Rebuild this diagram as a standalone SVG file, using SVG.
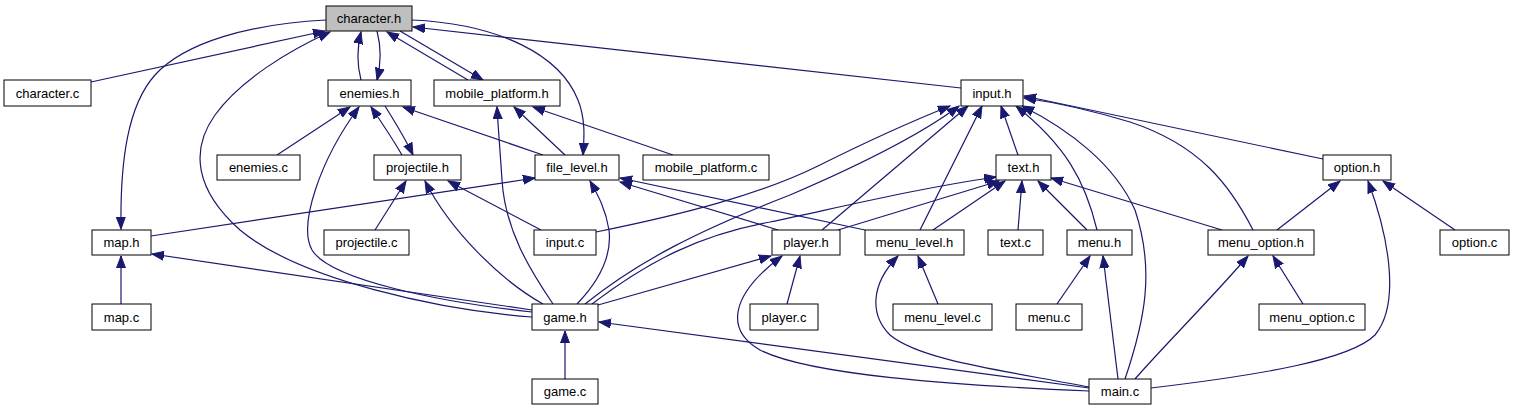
<svg xmlns="http://www.w3.org/2000/svg" width="1513" height="411" viewBox="0 0 1513 411">
<style>
.n rect{fill:#fff;stroke:#000;stroke-width:1}
.n text{font-family:"Liberation Sans",Arial,sans-serif;font-size:13px;fill:#000;text-anchor:middle}
#edges path{fill:none;stroke:#191970;stroke-width:1.2;marker-end:url(#ah)}
</style>
<defs>
<marker id="ah" markerUnits="userSpaceOnUse" markerWidth="14" markerHeight="11" refX="12" refY="5" orient="auto">
<path d="M0,0.5 L12,5 L0,9.5 z" fill="#191970" stroke="#191970" stroke-width="1"/>
</marker>
</defs>
<rect width="1513" height="411" fill="#fff"/>
<g id="edges">
<path d="M91,82 L325,31"/>
<path d="M326,20 C250,24 185,42 155,75 C128,105 120,160 121,229"/>
<path d="M532,317 C440,310 300,280 240,230 C195,190 190,150 215,115 C240,80 290,50 330,32"/>
<path d="M361,80 C357,65 357,48 361,32"/>
<path d="M377,31 C381,46 381,64 377,80"/>
<path d="M468,80 L387,32"/>
<path d="M400,31 L483,80"/>
<path d="M412,20 C500,24 560,55 578,100 C586,120 584,140 583,155"/>
<path d="M961,88 L413,27"/>
<path d="M277,155 L350,107"/>
<path d="M532,312 C440,302 330,280 312,250 C298,225 320,160 359,107"/>
<path d="M402,155 C392,138 380,120 371,107"/>
<path d="M385,106 C395,122 405,138 413,155"/>
<path d="M543,155 L403,107"/>
<path d="M553,304 C530,270 505,230 502,180 C500,150 498,125 497,107"/>
<path d="M565,155 L514,107"/>
<path d="M673,155 L533,107"/>
<path d="M375,230 L406,181"/>
<path d="M543,304 C500,280 450,230 425,181"/>
<path d="M541,230 L448,181"/>
<path d="M151,236 L535,178"/>
<path d="M577,304 C600,280 612,255 609,230 C606,210 598,195 590,181"/>
<path d="M778,230 L620,182"/>
<path d="M865,230 L620,178"/>
<path d="M121,304 L121,256"/>
<path d="M532,310 L152,254"/>
<path d="M565,379 L565,331"/>
<path d="M1089,388 L599,322"/>
<path d="M596,232 C680,215 760,195 820,165 C870,140 910,122 950,106"/>
<path d="M585,304 C640,260 700,230 790,195 C860,165 920,135 959,106"/>
<path d="M822,230 L968,106"/>
<path d="M920,230 L982,106"/>
<path d="M1018,155 L1001,106"/>
<path d="M1097,230 C1085,180 1065,145 1016,106"/>
<path d="M1125,379 C1145,320 1155,270 1135,210 C1115,165 1070,130 1022,106"/>
<path d="M1253,230 C1230,185 1200,145 1130,122 C1090,110 1060,103 1024,98"/>
<path d="M1323,159 L1024,96"/>
<path d="M592,304 C650,260 700,235 770,222 C850,205 920,188 996,177"/>
<path d="M838,230 L999,181"/>
<path d="M933,230 L1005,181"/>
<path d="M1018,230 L1022,181"/>
<path d="M1087,230 L1038,181"/>
<path d="M1222,230 L1051,178"/>
<path d="M598,305 L771,256"/>
<path d="M1089,391 C950,385 810,375 760,350 C725,330 730,295 782,256"/>
<path d="M787,304 L800,256"/>
<path d="M938,304 L918,256"/>
<path d="M1089,387 C1000,370 920,360 890,335 C870,315 870,285 898,256"/>
<path d="M1057,304 L1090,256"/>
<path d="M1118,379 L1103,256"/>
<path d="M1303,304 L1273,256"/>
<path d="M1135,379 C1160,350 1210,300 1248,256"/>
<path d="M1277,230 L1340,181"/>
<path d="M1151,388 C1260,375 1350,360 1375,335 C1400,305 1390,240 1368,181"/>
<path d="M1455,230 L1383,181"/>
</g>
<g id="character_h" class="n"><rect x="326" y="6" width="86" height="25" style="fill:#bfbfbf"/><text x="369" y="23">character.h</text></g>
<g id="character_c" class="n"><rect x="4" y="80" width="87" height="26"/><text x="47.5" y="97.5">character.c</text></g>
<g id="enemies_h" class="n"><rect x="328" y="80" width="83" height="26"/><text x="369.5" y="97.5">enemies.h</text></g>
<g id="mobile_platform_h" class="n"><rect x="434" y="80" width="126" height="26"/><text x="497" y="97.5">mobile_platform.h</text></g>
<g id="input_h" class="n"><rect x="961" y="80" width="62" height="26"/><text x="992" y="97.5">input.h</text></g>
<g id="enemies_c" class="n"><rect x="217" y="155" width="83" height="25"/><text x="258.5" y="172">enemies.c</text></g>
<g id="projectile_h" class="n"><rect x="374" y="155" width="87" height="25"/><text x="417.5" y="172">projectile.h</text></g>
<g id="file_level_h" class="n"><rect x="535" y="155" width="84" height="25"/><text x="577" y="172">file_level.h</text></g>
<g id="mobile_platform_c" class="n"><rect x="643" y="155" width="126" height="25"/><text x="706" y="172">mobile_platform.c</text></g>
<g id="text_h" class="n"><rect x="996" y="155" width="55" height="25"/><text x="1023.5" y="172">text.h</text></g>
<g id="option_h" class="n"><rect x="1323" y="155" width="68" height="25"/><text x="1357" y="172">option.h</text></g>
<g id="map_h" class="n"><rect x="92" y="230" width="59" height="25"/><text x="121.5" y="247">map.h</text></g>
<g id="projectile_c" class="n"><rect x="324" y="230" width="85" height="25"/><text x="366.5" y="247">projectile.c</text></g>
<g id="input_c" class="n"><rect x="534" y="230" width="62" height="25"/><text x="565" y="247">input.c</text></g>
<g id="player_h" class="n"><rect x="772" y="230" width="68" height="25"/><text x="806" y="247">player.h</text></g>
<g id="menu_level_h" class="n"><rect x="865" y="230" width="99" height="25"/><text x="914.5" y="247">menu_level.h</text></g>
<g id="text_c" class="n"><rect x="988" y="230" width="55" height="25"/><text x="1015.5" y="247">text.c</text></g>
<g id="menu_h" class="n"><rect x="1067" y="230" width="65" height="25"/><text x="1099.5" y="247">menu.h</text></g>
<g id="menu_option_h" class="n"><rect x="1208" y="230" width="106" height="25"/><text x="1261" y="247">menu_option.h</text></g>
<g id="option_c" class="n"><rect x="1440" y="230" width="69" height="25"/><text x="1474.5" y="247">option.c</text></g>
<g id="map_c" class="n"><rect x="92" y="304" width="59" height="26"/><text x="121.5" y="321.5">map.c</text></g>
<g id="game_h" class="n"><rect x="532" y="304" width="66" height="26"/><text x="565" y="321.5">game.h</text></g>
<g id="player_c" class="n"><rect x="750" y="304" width="68" height="26"/><text x="784" y="321.5">player.c</text></g>
<g id="menu_level_c" class="n"><rect x="893" y="304" width="99" height="26"/><text x="942.5" y="321.5">menu_level.c</text></g>
<g id="menu_c" class="n"><rect x="1016" y="304" width="66" height="26"/><text x="1049" y="321.5">menu.c</text></g>
<g id="menu_option_c" class="n"><rect x="1259" y="304" width="106" height="26"/><text x="1312" y="321.5">menu_option.c</text></g>
<g id="game_c" class="n"><rect x="532" y="379" width="66" height="25"/><text x="565" y="396">game.c</text></g>
<g id="main_c" class="n"><rect x="1089" y="379" width="62" height="25"/><text x="1120" y="396">main.c</text></g>
</svg>
